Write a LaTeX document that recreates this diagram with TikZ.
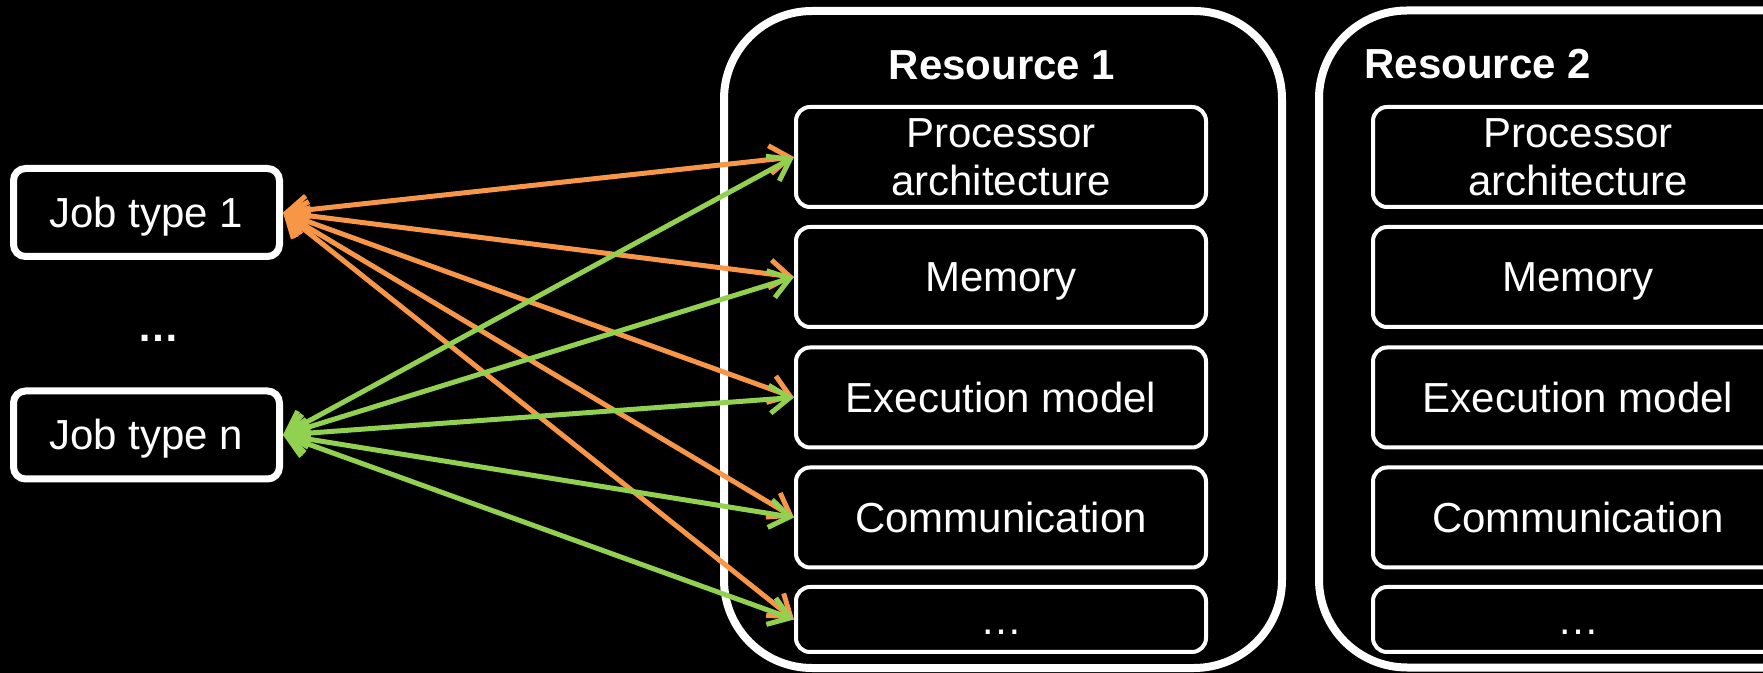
\documentclass[tikz,border=0pt]{standalone}
\usepackage{fontspec}
\setmainfont{Liberation Sans}
\usetikzlibrary{arrows.meta}
\definecolor{linkorange}{RGB}{247,150,70}
\definecolor{linkgreen}{RGB}{146,208,80}
\newcommand{\diagfont}{\fontsize{21}{24}\selectfont}

\begin{document}
\begin{tikzpicture}[x=0.5pt,y=-0.5pt,
  font=\diagfont,
  every node/.style={text=white},
  oneline/.style={text height=15pt, text depth=0pt},
  jobbox/.style={draw=white, line width=3.5pt, rounded corners=6pt, fill=black,
    minimum width=133pt, minimum height=44pt, inner sep=0pt, oneline},
  resbox/.style={draw=white, line width=4pt, rounded corners=44pt, fill=black,
    minimum width=279pt, minimum height=328.5pt, inner sep=0pt},
  partbox/.style={draw=white, line width=2pt, rounded corners=7pt, fill=black,
    minimum width=205pt, minimum height=50pt, inner sep=0pt, align=center},
  restitle/.style={font=\diagfont\bfseries, anchor=base, inner sep=0pt},
  link/.style={line width=2.5pt,
    {Straight Barb[length=10pt,width=14pt]}-{Straight Barb[length=10pt,width=14pt]}},
]
% canvas
\useasboundingbox (0,0) rectangle (1763,673);
\fill[black] (0,0) rectangle (1763,673);
\clip (0,0) rectangle (1763,673);

% resource containers
\node[resbox] (res1) at (1003,339.5) {};
\node[resbox] (res2) at (1598,339) {};
\node[restitle] (title1) at (1002,80) {Resource 1};
\node[restitle, anchor=base west] (title2) at (1364,79) {Resource 2};

% properties of resource 1
\node[partbox] (p1) at (1001,157) {Processor\\architecture};
\node[partbox, oneline] (p2) at (1001,277) {Memory};
\node[partbox, oneline] (p3) at (1001,397.5) {Execution model};
\node[partbox, oneline] (p4) at (1001,517.5) {Communication};
\node[partbox, oneline, minimum height=32.5pt] (p5) at (1001,619.5) {…};

% properties of resource 2
\node[partbox] (q1) at (1578,157) {Processor\\architecture};
\node[partbox, oneline] (q2) at (1578,277) {Memory};
\node[partbox, oneline] (q3) at (1578,397.5) {Execution model};
\node[partbox, oneline] (q4) at (1578,517.5) {Communication};
\node[partbox, oneline, minimum height=32.5pt] (q5) at (1578,619.5) {…};

% job types
\node[jobbox] (j1) at (146.5,212.5) {Job type 1};
\node[jobbox] (jn) at (146.5,435) {Job type n};
\node[font=\diagfont\bfseries, anchor=base] (jdots) at (158.5,342) {…};

% matching links
\foreach \p in {p1,p2,p3,p4,p5}
  \draw[link, linkorange] (j1.east) -- (\p.west);
\foreach \p in {p1,p2,p3,p4,p5}
  \draw[link, linkgreen] (jn.east) -- (\p.west);
\end{tikzpicture}
\end{document}
